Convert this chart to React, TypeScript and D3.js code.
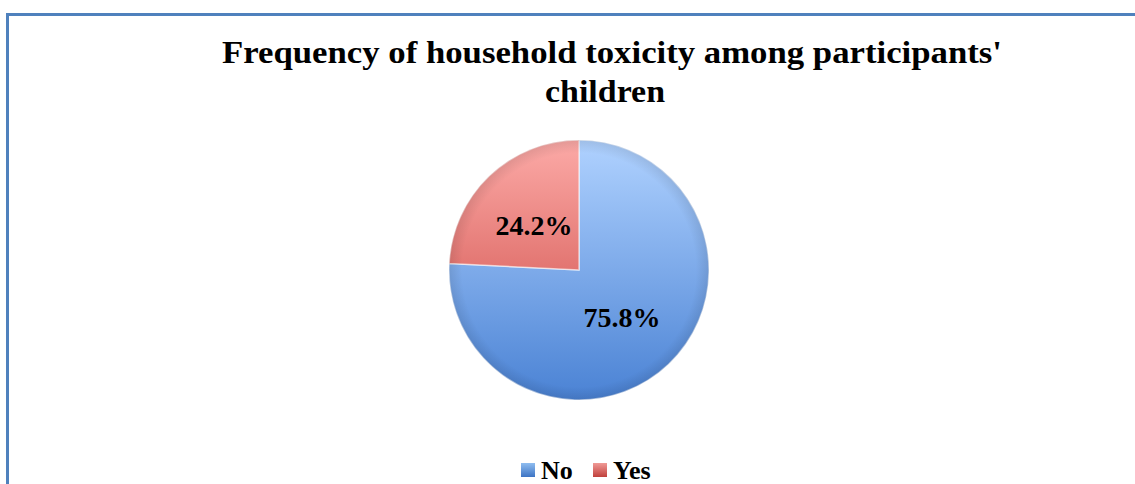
import * as d3 from 'd3';
import { useEffect, useRef } from 'react';

const categories = ['No', 'Yes'];
const shares = [75.8, 24.2];
const labels = ['75.8%', '24.2%'];

const W = 1135;
const H = 484;
const FONT = '"Liberation Serif", "DejaVu Serif", serif';

const fills = [
  { id: 'gNo', top: '#b0d2ff', bottom: '#4a82d4', legend: ['#8fbdf0', '#3d74c4'] },
  { id: 'gYes', top: '#fcaaa7', bottom: '#c9403b', legend: ['#f09a96', '#c0403c'] },
];

export default function App() {
  const svgRef = useRef<SVGSVGElement>(null);

  useEffect(() => {
    const svg = d3.select(svgRef.current);
    svg.selectAll('*').remove();

    const defs = svg.append('defs');
    fills.forEach((f) => {
      // coordinates are in the pie group's space (centre at 0,0)
      const g = defs
        .append('linearGradient')
        .attr('id', f.id)
        .attr('gradientUnits', 'userSpaceOnUse')
        .attr('x1', 0)
        .attr('y1', -130)
        .attr('x2', 0)
        .attr('y2', 130);
      g.append('stop').attr('offset', '0%').attr('stop-color', f.top);
      g.append('stop').attr('offset', '100%').attr('stop-color', f.bottom);
      const lg = defs
        .append('linearGradient')
        .attr('id', f.id + 'L')
        .attr('x1', 0)
        .attr('y1', 0)
        .attr('x2', 0)
        .attr('y2', 1);
      lg.append('stop').attr('offset', '0%').attr('stop-color', f.legend[0]);
      lg.append('stop').attr('offset', '100%').attr('stop-color', f.legend[1]);
    });
    // bevel shading near the rim
    const rg = defs
      .append('radialGradient')
      .attr('id', 'rim')
      .attr('gradientUnits', 'userSpaceOnUse')
      .attr('cx', 579)
      .attr('cy', 270)
      .attr('r', 130);
    rg.append('stop').attr('offset', '90%').attr('stop-color', '#000').attr('stop-opacity', 0);
    rg.append('stop').attr('offset', '100%').attr('stop-color', '#000').attr('stop-opacity', 0.1);

    // frame
    svg
      .append('path')
      .attr('d', `M7.5,${H} V14.5 H${W}`)
      .attr('fill', 'none')
      .attr('stroke', '#4f81bd')
      .attr('stroke-width', 3);

    // title
    svg
      .append('text')
      .attr('x', 612)
      .attr('y', 63)
      .attr('text-anchor', 'middle')
      .attr('textLength', 780)
      .attr('lengthAdjust', 'spacingAndGlyphs')
      .style('font-family', FONT)
      .style('font-weight', 'bold')
      .style('font-size', '32px')
      .text("Frequency of household toxicity among participants'");
    svg
      .append('text')
      .attr('x', 605)
      .attr('y', 102)
      .attr('text-anchor', 'middle')
      .attr('textLength', 120)
      .attr('lengthAdjust', 'spacingAndGlyphs')
      .style('font-family', FONT)
      .style('font-weight', 'bold')
      .style('font-size', '32px')
      .text('children');

    const pie = d3.pie<number>().sort(null).value((d) => d);
    const arcs = pie(shares);
    const r = 130;
    const arc = d3.arc<d3.PieArcDatum<number>>().innerRadius(0).outerRadius(r);
    const g = svg.append('g').attr('transform', 'translate(579,270)');

    g.selectAll('.slice')
      .data(arcs)
      .join('path')
      .attr('class', 'slice')
      .attr('d', arc)
      .attr('fill', (_, i) => `url(#${fills[i].id})`)
      .attr('stroke', 'rgba(255,255,255,0.55)')
      .attr('stroke-width', 1.5);

    svg
      .append('circle')
      .attr('cx', 579)
      .attr('cy', 270)
      .attr('r', r)
      .attr('fill', 'url(#rim)');

    const labelPos: [number, number][] = [
      [43, 57],
      [-45, -35],
    ];
    g.selectAll('.lbl')
      .data(arcs)
      .join('text')
      .attr('class', 'lbl')
      .attr('x', (_, i) => labelPos[i][0])
      .attr('y', (_, i) => labelPos[i][1])
      .attr('text-anchor', 'middle')
      .style('font-family', FONT)
      .style('font-weight', 'bold')
      .style('font-size', '28px')
      .text((_, i) => labels[i]);

    // legend
    const leg = svg.append('g');
    const legX = [521, 593];
    categories.forEach((c, i) => {
      leg
        .append('rect')
        .attr('x', legX[i])
        .attr('y', 463)
        .attr('width', 14)
        .attr('height', 14)
        .attr('fill', `url(#${fills[i].id}L)`);
      leg
        .append('text')
        .attr('x', legX[i] + 20)
        .attr('y', 479)
        .style('font-family', FONT)
        .style('font-weight', 'bold')
        .style('font-size', '26px')
        .text(c);
    });
  }, []);

  return (
    <svg
      ref={svgRef}
      width={W}
      height={H}
      style={{ position: 'absolute', left: 0, top: 0, background: '#fff' }}
    />
  );
}
